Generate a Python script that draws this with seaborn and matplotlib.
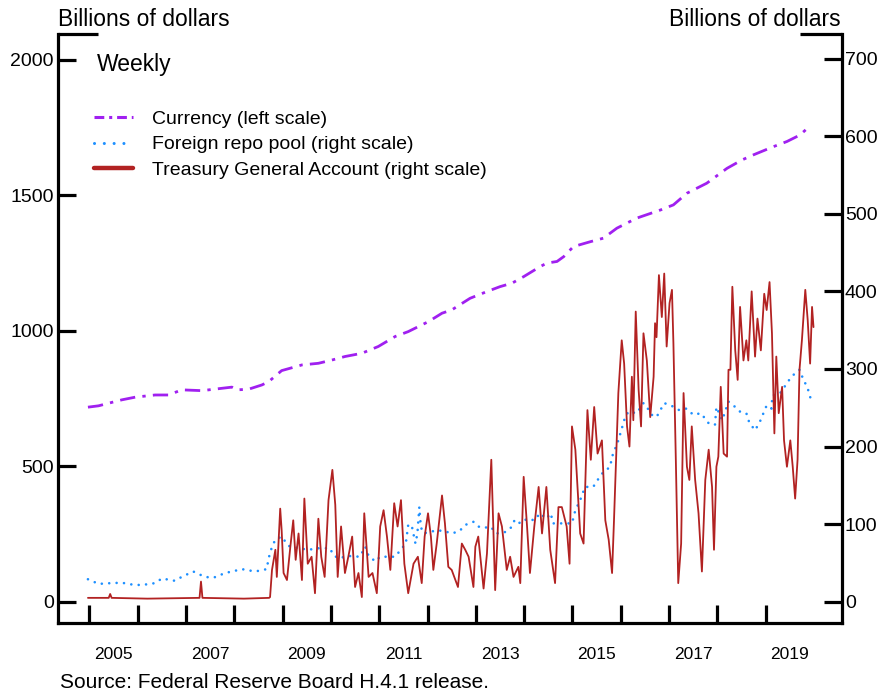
import numpy as np
import pandas as pd
import matplotlib
matplotlib.use("Agg")
import matplotlib.pyplot as plt
from matplotlib.lines import Line2D
from matplotlib.ticker import FixedLocator, NullFormatter, FixedFormatter
import seaborn as sns

# ---------------- data (decimal years, billions of dollars) ----------------
currency_year = [2004.97, 2005.19, 2005.45, 2005.67, 2005.95, 2006.36, 2006.64, 2006.91,
                 2007.33, 2007.95, 2008.05, 2008.29, 2008.57, 2008.71, 2008.98, 2009.40,
                 2009.74, 2010.02, 2010.29, 2010.64, 2010.98, 2011.33, 2011.60, 2012.02,
                 2012.30, 2012.50, 2012.88, 2013.23, 2013.50, 2013.75, 2013.99, 2014.33,
                 2014.47, 2014.68, 2014.82, 2015.02, 2015.37, 2015.64, 2015.92, 2016.33,
                 2016.82, 2017.09, 2017.37, 2017.78, 2018.20, 2018.51, 2018.75, 2019.16,
                 2019.44, 2019.71, 2019.92]
currency_val = [718, 723, 735, 745, 755, 763, 763, 782,
                779, 792, 782, 784, 800, 812, 853, 874,
                880, 892, 905, 917, 942, 979, 997, 1034,
                1065, 1077, 1120, 1145, 1163, 1176, 1200, 1237,
                1250, 1256, 1274, 1311, 1329, 1342, 1379, 1416,
                1446, 1465, 1508, 1545, 1600, 1631, 1650, 1680,
                1699, 1723, 1757]

repo_year = [2004.97, 2005.19, 2005.45, 2005.67, 2005.90, 2006.08, 2006.36, 2006.50,
             2006.77, 2006.91, 2007.15, 2007.39, 2007.57, 2007.81, 2008.16, 2008.43,
             2008.67, 2008.71, 2008.78, 2008.85, 2008.98, 2009.12, 2009.33, 2009.53,
             2009.75, 2009.98, 2010.05, 2010.16, 2010.36, 2010.60, 2010.71, 2010.78,
             2010.92, 2011.02, 2011.19, 2011.33, 2011.47, 2011.55, 2011.60, 2011.67,
             2011.75, 2011.79, 2011.83, 2011.85, 2011.88, 2011.93, 2012.02, 2012.23,
             2012.40, 2012.50, 2012.66, 2012.78, 2012.95, 2013.05, 2013.16, 2013.30,
             2013.43, 2013.62, 2013.72, 2013.81, 2013.92, 2014.06, 2014.21, 2014.33,
             2014.46, 2014.55, 2014.60, 2014.99, 2015.06, 2015.16, 2015.26, 2015.43,
             2015.50, 2015.61, 2015.78, 2015.82, 2015.95, 2016.09, 2016.16, 2016.33,
             2016.47, 2016.54, 2016.64, 2016.74, 2016.90, 2017.04, 2017.21, 2017.36,
             2017.50, 2017.66, 2017.82, 2017.95, 2017.98, 2018.10, 2018.23, 2018.37,
             2018.47, 2018.60, 2018.66, 2018.78, 2018.88, 2019.02, 2019.12, 2019.14,
             2019.29, 2019.51, 2019.60, 2019.70, 2019.77, 2019.87, 2019.93]
repo_val = [29, 23, 24, 24.5, 22, 21.5, 24, 30,
            27, 32, 39, 32, 31, 37, 42, 39,
            42, 56, 71, 80, 84, 72, 69, 67,
            69, 69, 60, 56, 59, 58, 71, 59,
            52, 58, 58, 58, 69, 75, 99, 99,
            75, 88, 122, 105, 92, 88, 90, 92,
            90, 88, 91, 99, 103, 97, 95, 97,
            88, 90, 95, 106, 101, 107, 105, 114,
            107, 114, 101, 101, 118, 131, 148, 148,
            155, 165, 174, 187, 208, 238, 245, 243,
            256, 251, 241, 238, 256, 253, 247, 249,
            241, 243, 230, 228, 251, 234, 258, 251,
            245, 243, 231, 221, 232, 253, 249, 266,
            268, 288, 294, 299, 288, 275, 262]

tga_year = [2004.97, 2005.40, 2005.43, 2005.46, 2006.20, 2007.28, 2007.31, 2007.34,
            2008.20, 2008.72,
            2008.74, 2008.78, 2008.85, 2008.88, 2008.95, 2008.98, 2009.02, 2009.09,
            2009.16, 2009.22, 2009.27, 2009.33, 2009.40, 2009.45, 2009.52, 2009.60,
            2009.67, 2009.74, 2009.80, 2009.87, 2009.95, 2010.03, 2010.09, 2010.14,
            2010.21, 2010.29, 2010.36, 2010.44, 2010.50, 2010.57, 2010.64, 2010.69,
            2010.78, 2010.86, 2010.95, 2011.02, 2011.09, 2011.16, 2011.23, 2011.31,
            2011.38, 2011.45, 2011.52, 2011.60, 2011.71, 2011.80, 2011.88, 2011.94,
            2012.01, 2012.07, 2012.12, 2012.19, 2012.30, 2012.36, 2012.43, 2012.50,
            2012.63, 2012.71, 2012.78, 2012.85, 2012.95, 2012.99, 2013.05, 2013.16,
            2013.23, 2013.32, 2013.40, 2013.47, 2013.54, 2013.64, 2013.71, 2013.78,
            2013.88, 2013.92, 2013.99, 2014.06, 2014.12, 2014.21, 2014.30, 2014.37,
            2014.46, 2014.54, 2014.64, 2014.71, 2014.78, 2014.88, 2014.94, 2014.99,
            2015.06, 2015.16, 2015.23, 2015.31, 2015.38, 2015.45, 2015.52, 2015.61,
            2015.68, 2015.75, 2015.82, 2015.86, 2015.92, 2015.95, 2016.02, 2016.07,
            2016.13, 2016.18, 2016.23, 2016.26, 2016.31, 2016.37, 2016.42, 2016.47,
            2016.54, 2016.61, 2016.68, 2016.71, 2016.74, 2016.79, 2016.85, 2016.90,
            2016.95, 2017.01, 2017.06, 2017.09, 2017.14, 2017.19, 2017.25, 2017.30,
            2017.37, 2017.42, 2017.47, 2017.54, 2017.61, 2017.68, 2017.75, 2017.82,
            2017.89, 2017.93, 2017.98, 2018.02, 2018.07, 2018.13, 2018.20, 2018.23,
            2018.27, 2018.31, 2018.37, 2018.42, 2018.47, 2018.54, 2018.60, 2018.64,
            2018.71, 2018.78, 2018.83, 2018.90, 2018.97, 2019.02, 2019.08, 2019.13,
            2019.18, 2019.22, 2019.27, 2019.34, 2019.38, 2019.44, 2019.51, 2019.56,
            2019.61, 2019.66, 2019.70, 2019.75, 2019.82, 2019.87, 2019.92, 2019.96,
            2019.99]
tga_val = [5, 5, 10, 5, 4, 5, 26, 5,
           4, 5,
           6, 41, 67, 32, 120, 92, 37, 28,
           71, 105, 54, 88, 28, 133, 49, 58,
           11, 107, 58, 32, 131, 170, 125, 32,
           97, 37, 58, 84, 19, 37, 6, 114,
           32, 37, 11, 97, 118, 84, 41, 127,
           97, 131, 49, 11, 49, 58, 24, 84,
           114, 84, 41, 75, 137, 101, 45, 41,
           19, 75, 67, 58, 19, 71, 84, 17,
           62, 183, 15, 114, 97, 41, 58, 32,
           45, 24, 161, 97, 37, 97, 148, 88,
           148, 67, 24, 122, 122, 97, 49, 226,
           196, 88, 75, 247, 183, 251, 191, 208,
           105, 80, 37, 105, 217, 269, 337, 307,
           226, 200, 290, 234, 374, 273, 226, 346,
           311, 238, 290, 359, 341, 421, 367, 423,
           329, 385, 402, 333, 183, 24, 75, 269,
           174, 157, 226, 157, 114, 39, 157, 196,
           148, 67, 174, 187, 277, 191, 187, 299,
           299, 406, 324, 286, 380, 311, 337, 311,
           400, 316, 365, 324, 397, 376, 412, 346,
           217, 316, 243, 277, 208, 174, 208, 174,
           133, 183, 299, 337, 402, 363, 307, 380,
           354]

series_labels = ["Currency (left scale)", "Foreign repo pool (right scale)",
                 "Treasury General Account (right scale)"]
year_ticks = list(range(2005, 2020))
year_labels = ["2005", "2007", "2009", "2011", "2013", "2015", "2017", "2019"]
left_ticks = [0, 500, 1000, 1500, 2000]
right_ticks = [0, 100, 200, 300, 400, 500, 600, 700]

cur_df = pd.DataFrame({"year": currency_year, "value": currency_val})
repo_df = pd.DataFrame({"year": repo_year, "value": repo_val})
tga_df = pd.DataFrame({"year": tga_year, "value": tga_val})

# ---------------- styling ----------------
sns.set_theme(style="white")
plt.rcParams["font.family"] = ["Liberation Sans", "DejaVu Sans"]
for k in ("text.color", "axes.labelcolor", "xtick.color", "ytick.color", "axes.edgecolor"):
    plt.rcParams[k] = "black"

C_CUR = "#A020F0"
C_REPO = "#1E90FF"
C_TGA = "#B22222"

W, H = 883, 691
fig = plt.figure(figsize=(W / 100, H / 100), dpi=100)
ax = fig.add_axes([58 / W, 1 - 623 / H, (842 - 58) / W, (623 - 34) / H])
ax2 = ax.twinx()

# currency on left scale
sns.lineplot(data=cur_df, x="year", y="value", ax=ax, color=C_CUR, lw=2.0,
             estimator=None, legend=False)
l = ax.lines[-1]
l.set_dashes((5.5, 2.6, 1.2, 2.6))
l.set_dash_capstyle("butt")

# foreign repo pool and TGA on right scale
sns.lineplot(data=repo_df, x="year", y="value", ax=ax2, color=C_REPO, lw=1.9,
             estimator=None, legend=False)
l = ax2.lines[-1]
l.set_dashes((0.01, 2.8))
l.set_dash_capstyle("round")

sns.lineplot(data=tga_df, x="year", y="value", ax=ax2, color=C_TGA, lw=1.3,
             estimator=None, legend=False)

ax.set_xlim(2004.35, 2020.58)
ax.set_ylim(-79, 2096)
ax2.set_ylim(-27.4, 731.8)
ax.set_xlabel("")
ax.set_ylabel("")
ax2.set_ylabel("")

# spines
for a in (ax, ax2):
    a.spines["top"].set_visible(False)
    for s in ("left", "right", "bottom"):
        a.spines[s].set_linewidth(2.3)
        a.spines[s].set_color("black")
ax.spines["right"].set_visible(False)
ax2.spines["left"].set_visible(False)
ax2.spines["bottom"].set_visible(False)
ax.patch.set_visible(False)

# top brackets
ax.plot([0, 40 / 784], [1, 1], transform=ax.transAxes, color="black", lw=2.3,
        clip_on=False, solid_capstyle="butt")
ax.plot([1 - 42 / 784, 1], [1, 1], transform=ax.transAxes, color="black", lw=2.3,
        clip_on=False, solid_capstyle="butt")

# ticks
ax.set_yticks(left_ticks)
ax.set_yticklabels([str(v) for v in left_ticks])
ax2.set_yticks(right_ticks)
ax2.set_yticklabels([str(v) for v in right_ticks])
ax.tick_params(axis="y", which="major", direction="in", length=13, width=2.3,
               labelsize=14, pad=3, left=True, right=False, colors="black")
ax2.tick_params(axis="y", which="major", direction="in", length=13, width=2.3,
                labelsize=14, pad=2, right=True, left=False, colors="black")

ax.xaxis.set_major_locator(FixedLocator(year_ticks))
ax.xaxis.set_major_formatter(NullFormatter())
ax.xaxis.set_minor_locator(FixedLocator([int(y) + 0.5 for y in year_labels]))
ax.xaxis.set_minor_formatter(FixedFormatter(year_labels))
ax.tick_params(axis="x", which="major", direction="in", length=13, width=2.3,
               bottom=True, top=False, colors="black")
ax.tick_params(axis="x", which="minor", length=0, labelsize=12.5, pad=17,
               bottom=True, colors="black")
ax.grid(False)
ax2.grid(False)

# legend
handles = [
    Line2D([], [], color=C_CUR, lw=2.2, dashes=(3.2, 1.6, 1.0, 1.6), dash_capstyle="butt"),
    Line2D([], [], color=C_REPO, lw=2.2, dashes=(0.01, 3.2), dash_capstyle="round"),
    Line2D([], [], color=C_TGA, lw=3.2),
]
fig.legend(handles, series_labels, loc="upper left",
           bbox_to_anchor=(94 / W, 1 - 110 / H), frameon=False, fontsize=14,
           handlelength=2.0, handletextpad=1.0, labelspacing=0.42,
           borderpad=0, borderaxespad=0)

fig.text(97 / W, 1 - 64 / H, "Weekly", fontsize=16.5, ha="left", va="center")
fig.text(58 / W, 1 - 20 / H, "Billions of dollars", fontsize=16.5, ha="left", va="center")
fig.text(841 / W, 1 - 20 / H, "Billions of dollars", fontsize=16.5, ha="right", va="center")
fig.text(60 / W, 1 - 682 / H, "Source: Federal Reserve Board H.4.1 release.",
         fontsize=15, ha="left", va="center")

fig.savefig("out.png", dpi=100)
